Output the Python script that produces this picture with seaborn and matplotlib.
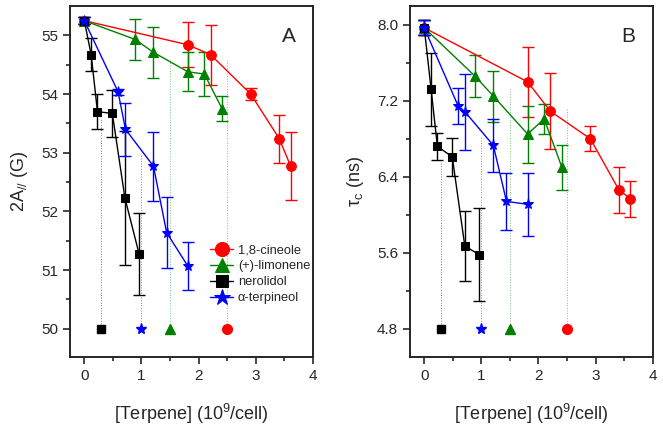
import numpy as np
import pandas as pd
import matplotlib
matplotlib.use('Agg')
import matplotlib.pyplot as plt
import seaborn as sns

# x positions (10^9 terpene molecules per cell), shared by both panels
x_cineole = [0, 1.81, 2.21, 2.91, 3.41, 3.61]
x_limonene = [0, 0.89, 1.21, 1.81, 2.10, 2.41]
x_nerolidol = [0, 0.12, 0.23, 0.49, 0.71, 0.96]
x_terpineol = [0, 0.59, 0.72, 1.21, 1.44, 1.81]

# panel A: 2A// (G)
a_cineole = [55.25, 54.84, 54.67, 54.00, 53.24, 52.77]
a_cineole_err = [0.06, 0.38, 0.51, 0.10, 0.41, 0.58]
a_limonene = [55.25, 54.93, 54.71, 54.38, 54.34, 53.75]
a_limonene_err = [0.06, 0.35, 0.43, 0.33, 0.37, 0.21]
a_nerolidol = [55.25, 54.67, 53.70, 53.67, 52.23, 51.27]
a_nerolidol_err = [0.06, 0.28, 0.30, 0.40, 1.14, 0.70]
a_terpineol = [55.25, 54.04, 53.40, 52.77, 51.64, 51.07]
a_terpineol_err = [0.06, 0.05, 0.45, 0.59, 0.60, 0.41]

# panel B: tau_c (ns)
b_cineole = [7.97, 7.40, 7.09, 6.80, 6.26, 6.17]
b_cineole_err = [0.08, 0.37, 0.40, 0.13, 0.24, 0.19]
b_limonene = [7.97, 7.46, 7.25, 6.85, 7.01, 6.50]
b_limonene_err = [0.08, 0.22, 0.27, 0.30, 0.16, 0.24]
b_nerolidol = [7.97, 7.32, 6.72, 6.61, 5.67, 5.58]
b_nerolidol_err = [0.08, 0.38, 0.14, 0.20, 0.37, 0.49]
b_terpineol = [7.97, 7.15, 7.08, 6.73, 6.14, 6.11]
b_terpineol_err = [0.08, 0.19, 0.40, 0.28, 0.30, 0.33]

# threshold markers on the floor of each panel + top of their dotted guide
names = ['1,8-cineole', '(+)-limonene', 'nerolidol', u'\u03b1-terpineol']
thresh_x = [2.5, 1.5, 0.3, 1.0]
thresh_top_a = [54.6, 54.6, 53.6, 52.98]
thresh_top_b = [7.13, 7.32, 6.55, 6.82]
floor_a = 50.0
floor_b = 4.8

colors = ['#ff0000', '#008000', '#000000', '#0000ff']
markers = ['o', '^', 's', '*']
msizes = [7, 7, 6, 8]

sns.set_style('ticks')
plt.rcParams['font.family'] = ['Liberation Sans', 'DejaVu Sans']
plt.rcParams['mathtext.fontset'] = 'custom'
plt.rcParams['mathtext.rm'] = 'Liberation Sans'
plt.rcParams['mathtext.it'] = 'Liberation Sans:italic'

fig = plt.figure(figsize=(6.63, 4.32), dpi=100)
axA = fig.add_axes([0.1056, 0.1736, 0.3665, 0.8125])
axB = fig.add_axes([0.6184, 0.1736, 0.3660, 0.8125])

xs = [x_cineole, x_limonene, x_nerolidol, x_terpineol]
panels = [
    (axA, [a_cineole, a_limonene, a_nerolidol, a_terpineol],
     [a_cineole_err, a_limonene_err, a_nerolidol_err, a_terpineol_err],
     thresh_top_a, floor_a),
    (axB, [b_cineole, b_limonene, b_nerolidol, b_terpineol],
     [b_cineole_err, b_limonene_err, b_nerolidol_err, b_terpineol_err],
     thresh_top_b, floor_b),
]

for ax, ys, errs, tops, floor in panels:
    # dotted guides and floor markers first
    for i in range(4):
        ax.plot([thresh_x[i], thresh_x[i]], [floor, tops[i]], ls=':', lw=0.7,
                color=colors[i], alpha=0.5, zorder=1)
        ax.plot(thresh_x[i], floor, marker=markers[i], color=colors[i],
                ms=msizes[i], ls='none', zorder=3)
    for i in range(4):
        df = pd.DataFrame({'x': xs[i], 'y': ys[i]})
        ax.errorbar(df['x'], df['y'], yerr=errs[i], fmt='none', ecolor=colors[i],
                    elinewidth=1, capsize=4, capthick=1, zorder=2)
        sns.lineplot(data=df, x='x', y='y', ax=ax, color=colors[i], marker=markers[i],
                     markersize=msizes[i], markeredgecolor=colors[i], lw=1,
                     label=names[i], sort=False, estimator=None, zorder=4)
    ax.set_xlim(-0.25, 4.0)
    ax.set_xticks([0, 1, 2, 3, 4])
    ax.set_xticks(np.arange(0.5, 4, 1), minor=True)
    ax.set_xlabel('[Terpene] (10$^9$/cell)', fontsize=13, labelpad=14)
    ax.tick_params(which='major', length=5, width=1.2, labelsize=11, direction='out')
    ax.tick_params(which='minor', length=3, width=1.2, direction='out')
    for s in ax.spines.values():
        s.set_linewidth(1.4)

axA.set_ylim(49.52, 55.5)
axA.set_yticks([50, 51, 52, 53, 54, 55])
axA.set_yticks(np.arange(50.5, 55.5, 1), minor=True)
axA.set_ylabel('2A$_{//}$ (G)', fontsize=13, labelpad=8)
axA.text(0.93, 0.94, 'A', transform=axA.transAxes, fontsize=15, ha='right', va='top')

axB.set_ylim(4.5, 8.2)
axB.set_yticks([4.8, 5.6, 6.4, 7.2, 8.0])
axB.set_yticks([5.2, 6.0, 6.8, 7.6], minor=True)
axB.set_yticklabels(['4.8', '5.6', '6.4', '7.2', '8.0'])
axB.set_ylabel(u'\u03c4$_{\\mathrm{c}}$ (ns)', fontsize=13, labelpad=8)
axB.text(0.93, 0.94, 'B', transform=axB.transAxes, fontsize=15, ha='right', va='top')
axB.get_legend().remove()

leg = axA.legend(loc='upper left', bbox_to_anchor=(0.555, 0.336), frameon=False,
                 fontsize=9.3, handlelength=1.8, handletextpad=0.35,
                 labelspacing=0.3, markerscale=1.45, borderaxespad=0)

fig.savefig('out.png', dpi=100)
